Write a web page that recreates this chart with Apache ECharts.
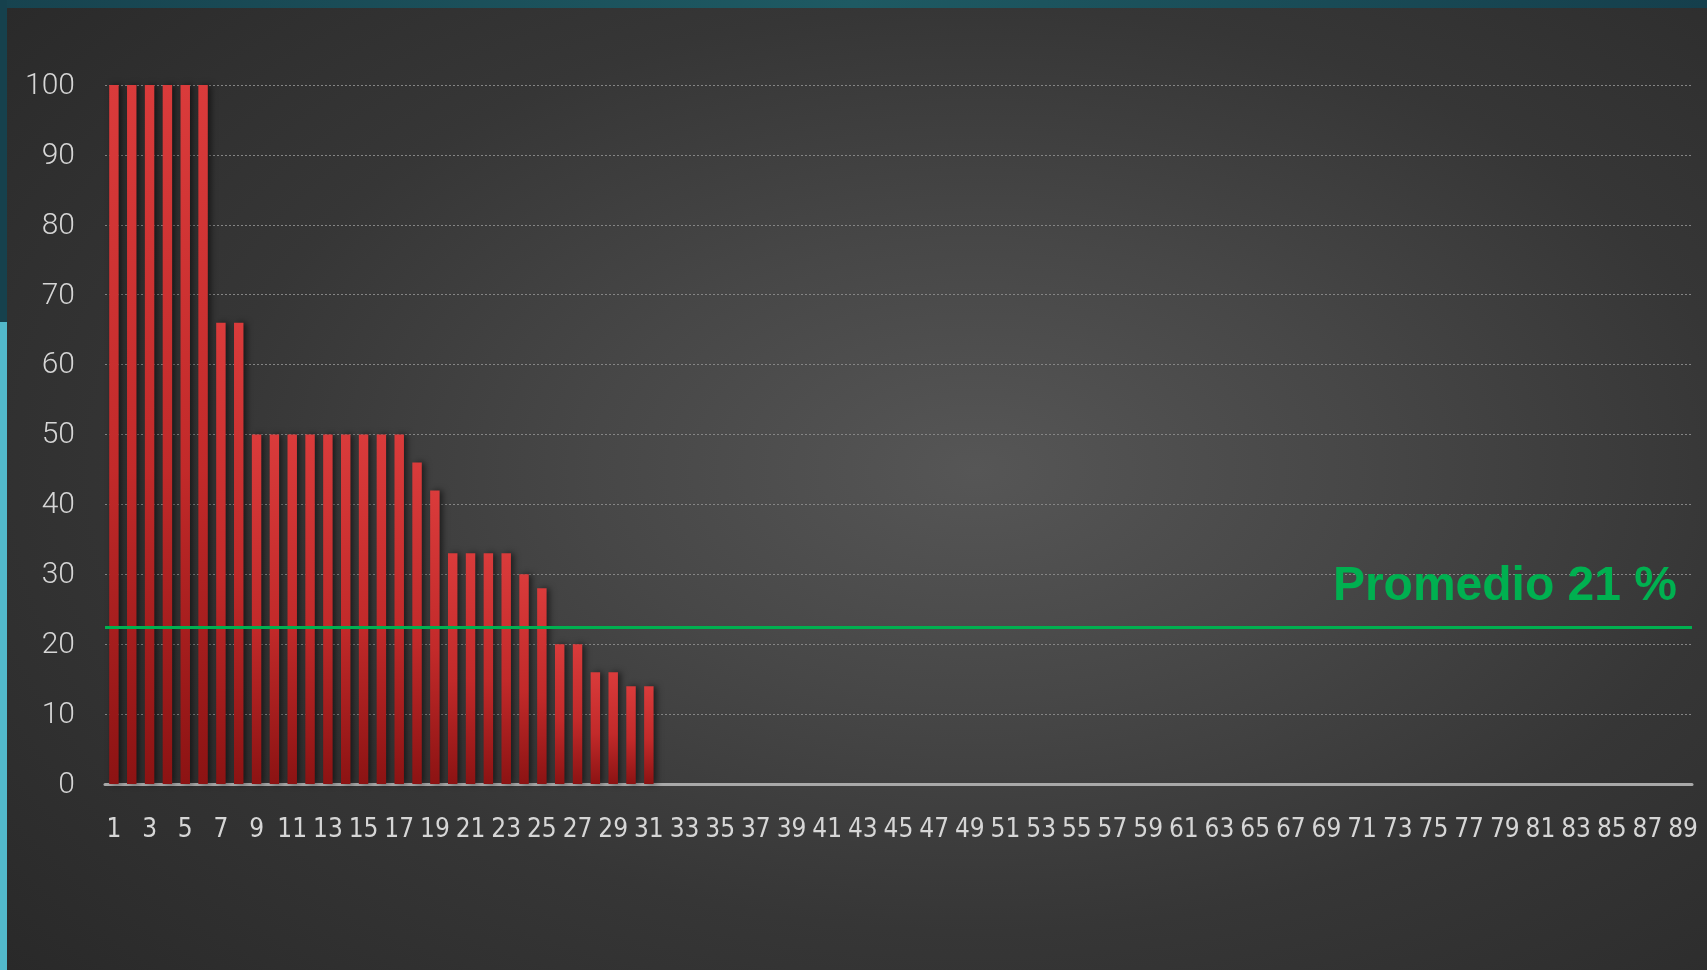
<!DOCTYPE html>
<html>
<head>
<meta charset="utf-8">
<script src="https://cdn.jsdelivr.net/npm/echarts@6/dist/echarts.min.js"></script>
<style>
  html, body { margin: 0; padding: 0; width: 1707px; height: 970px; overflow: hidden; background: #52b9cb; }
  #topband { position: absolute; left: 0; top: 0; width: 1707px; height: 8px;
    background: linear-gradient(90deg, #17434f 0%, #1e5a63 50%, #153f4c 100%); }
  #leftdark { position: absolute; left: 0; top: 0; width: 7px; height: 322px; background: #16414d; }
  #leftcyan { position: absolute; left: 0; top: 322px; width: 7px; height: 648px; background: #52b9cb; }
  #panel { position: absolute; left: 7px; top: 8px; width: 1700px; height: 962px;
    background: radial-gradient(ellipse 75% 80% at 57% 48%, #565656 0%, #474747 30%, #363636 60%, #292929 100%); }
  #chart { position: absolute; left: 0; top: 0; width: 1707px; height: 970px; }
</style>
</head>
<body>
<div id="topband"></div>
<div id="leftdark"></div>
<div id="leftcyan"></div>
<div id="panel"></div>
<div id="chart"></div>
<script>
// ---- Data ----
const categories = [
  '1','2','3','4','5','6','7','8','9','10','11','12','13','14','15','16','17','18','19','20',
  '21','22','23','24','25','26','27','28','29','30','31','32','33','34','35','36','37','38','39','40',
  '41','42','43','44','45','46','47','48','49','50','51','52','53','54','55','56','57','58','59','60',
  '61','62','63','64','65','66','67','68','69','70','71','72','73','74','75','76','77','78','79','80',
  '81','82','83','84','85','86','87','88','89'
];
const values = [
  100,100,100,100,100,100,66,66,50,50,50,50,50,50,50,50,50,46,42,33,
  33,33,33,30,28,20,20,16,16,14,14,0,0,0,0,0,0,0,0,0,
  0,0,0,0,0,0,0,0,0,0,0,0,0,0,0,0,0,0,0,0,
  0,0,0,0,0,0,0,0,0,0,0,0,0,0,0,0,0,0,0,0,
  0,0,0,0,0,0,0,0,0
];
const averageLineValue = 22.4;
const averageLabel = 'Promedio 21 %';
const yMin = 0, yMax = 100, yInterval = 10;

// ---- Chart ----
const chart = echarts.init(document.getElementById('chart'), null, { renderer: 'canvas' });
chart.setOption({
  backgroundColor: 'transparent',
  animation: false,
  grid: { left: 105, right: 15, top: 85, bottom: 186, containLabel: false },
  xAxis: {
    type: 'category',
    data: categories,
    boundaryGap: true,
    axisTick: { show: false },
    axisLine: { show: true, lineStyle: { color: '#a9a9a9', width: 3 } },
    axisLabel: {
      interval: 1,
      margin: 33,
      color: '#d6d6d6',
      fontSize: 26,
      fontFamily: '"Liberation Sans Narrow", "DejaVu Sans Condensed", sans-serif',
      fontWeight: 'normal'
    },
    splitLine: { show: false }
  },
  yAxis: {
    type: 'value',
    min: yMin, max: yMax, interval: yInterval,
    axisLine: { show: false },
    axisTick: { show: false },
    axisLabel: {
      margin: 30,
      color: '#d6d6d6',
      fontSize: 30,
      padding: [4, 0, 0, 0],
      fontFamily: '"Roboto Light", "Lato Light", "Open Sans Light", Roboto, sans-serif',
      fontWeight: 300
    },
    splitLine: { show: true, lineStyle: { color: '#858585', width: 1, type: [2, 2] } }
  },
  series: [{
    type: 'bar',
    data: values,
    barWidth: '53%',
    itemStyle: {
      color: new echarts.graphic.LinearGradient(0, 0, 0, 1, [
        { offset: 0, color: '#da3b3b' },
        { offset: 0.55, color: '#c22a2a' },
        { offset: 1, color: '#8c1313' }
      ]),
      shadowColor: 'rgba(0,0,0,0.55)',
      shadowBlur: 6,
      shadowOffsetX: 3,
      shadowOffsetY: 0
    },
    markLine: {
      silent: true,
      symbol: ['none', 'none'],
      lineStyle: { color: '#00b050', width: 3, type: 'solid' },
      label: {
        show: true,
        position: 'insideEndTop',
        formatter: averageLabel,
        color: '#00b050',
        fontSize: 48,
        fontWeight: 'bold',
        fontFamily: '"Liberation Sans", Arial, sans-serif',
        distance: [15, 17]
      },
      data: [{ yAxis: averageLineValue }]
    }
  }]
});
</script>
</body>
</html>
